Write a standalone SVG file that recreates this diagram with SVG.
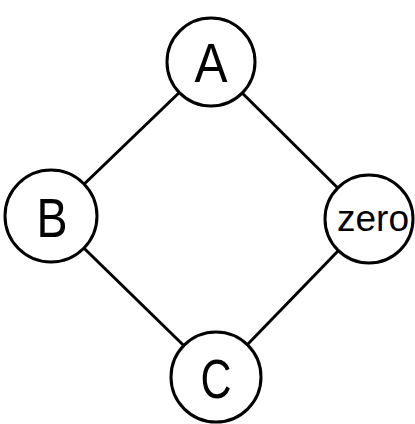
<svg xmlns="http://www.w3.org/2000/svg" width="415" height="424" viewBox="0 0 415 424">
<style>
.n{fill:#fff;stroke:#000;stroke-width:3}
.e{stroke:#000;stroke-width:3;fill:none}
.t{font-family:"Liberation Sans",Arial,sans-serif;fill:#000;text-anchor:middle}
</style>
<rect width="415" height="424" fill="#fff"/>
<g id="edges">
<line class="e" x1="211" y1="62" x2="51" y2="216"/>
<line class="e" x1="211" y1="62" x2="369" y2="219"/>
<line class="e" x1="51" y1="216" x2="216" y2="377"/>
<line class="e" x1="369" y1="219" x2="216" y2="377"/>
</g>
<g id="A"><circle class="n" cx="211" cy="62" r="44"/><text class="t" x="211" y="82" font-size="56" textLength="33" lengthAdjust="spacingAndGlyphs">A</text></g>
<g id="B"><circle class="n" cx="51" cy="216" r="46"/><text class="t" x="52" y="237" font-size="56" textLength="31" lengthAdjust="spacingAndGlyphs">B</text></g>
<g id="zero"><circle class="n" cx="369" cy="219" r="44"/><text class="t" x="373" y="231" font-size="36" textLength="72" lengthAdjust="spacingAndGlyphs">zero</text></g>
<g id="C"><circle class="n" cx="216" cy="377" r="45"/><text class="t" x="216" y="398" font-size="56" textLength="31" lengthAdjust="spacingAndGlyphs">C</text></g>
</svg>
